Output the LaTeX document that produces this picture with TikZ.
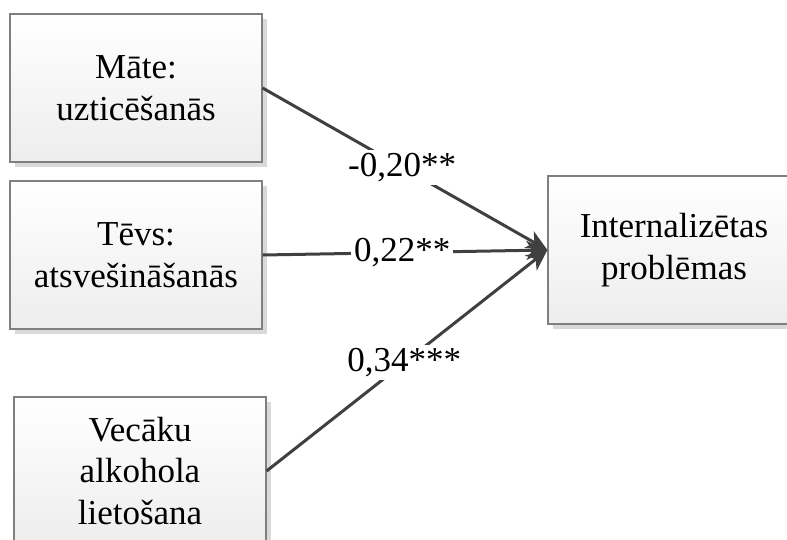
\documentclass[tikz,border=0pt]{standalone}
\usepackage{fontspec}
\setmainfont{Liberation Serif}
\usetikzlibrary{arrows.meta,shadows}

\definecolor{linegray}{HTML}{404040}
\definecolor{boxedge}{HTML}{7F7F7F}
\definecolor{boxshade}{HTML}{D9D9D9}

\tikzset{
  factor/.style={draw=boxedge, line width=1.2pt, top color=white, bottom color=gray!14,
    minimum width=252pt, minimum height=148pt, align=center, inner sep=0pt,
    drop shadow={shadow xshift=5pt, shadow yshift=-5pt, fill=boxshade, opacity=1}},
  effect/.style={draw=linegray, line width=3pt, -{Stealth[length=21pt, width=19pt, inset=6pt]}},
  coef/.style={fill=white, inner sep=3pt}
}

\begin{document}
\begin{tikzpicture}[x=1pt, y=-1pt, font=\fontsize{35pt}{41.5pt}\selectfont]
\useasboundingbox (0,0) rectangle (787,539);

\node[factor](mate) at (136,88) {Māte:\\uzticēšanās};

\node[factor](tevs) at (136,255) {Tēvs:\\atsvešināšanās};

\node[factor](alk) at (140,471) {Vecāku\\alkohola\\lietošana};

\node[factor](intp) at (674,250) {Internalizētas\\problēmas};

\foreach \from/\val in {mate/{-0,20**}, tevs/{0,22**}, alk/{0,34***}}
    \draw[effect] (\from.east) -- (intp.west) node[coef, pos=0.49] {\val};

\end{tikzpicture}
\end{document}
